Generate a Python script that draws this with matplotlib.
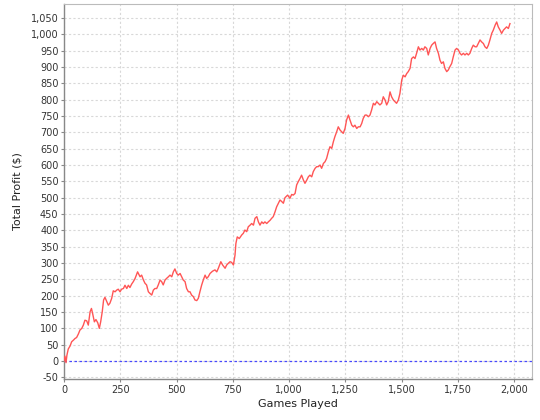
import matplotlib
matplotlib.use('Agg')
import matplotlib.pyplot as plt
from matplotlib.ticker import FuncFormatter

games = [0, 4, 9, 13, 19, 27, 34, 42, 49, 56, 64, 71, 79, 86, 93, 101, 108, 116, 122, 127,
         135, 142, 150, 157, 163, 170, 176, 182, 190, 197, 204, 212, 219, 227, 234, 241, 249, 256, 264, 271,
         279, 286, 293, 301, 308,
         316, 327, 338, 345, 353, 360, 367, 375, 382, 390, 397, 404, 412, 419, 427, 434, 441, 449, 456, 464,
         471, 479, 486, 493, 501, 508, 516, 523, 530, 538, 545, 553, 560, 567, 575, 582, 590, 597, 604, 612,
         619, 627, 634, 641,
         649, 660, 671, 679, 686, 697, 705, 716, 723, 730, 738, 745, 753, 760, 764, 770, 779, 790, 797, 804,
         812, 819, 827, 834, 842, 849, 857, 864, 871, 879, 886, 893, 901, 908, 916, 923, 930, 938, 945, 953,
         960, 968, 975,
         982, 994, 1004, 1012, 1019, 1027, 1034, 1041, 1049, 1056, 1064, 1071, 1079, 1086, 1093, 1101, 1108,
         1116, 1123, 1130, 1138, 1145, 1153, 1160, 1167, 1175, 1182, 1190, 1197, 1204, 1212, 1219, 1227, 1234,
         1241, 1249, 1256, 1264, 1271, 1279, 1286, 1293, 1301, 1308,
         1316, 1323, 1330, 1338, 1345, 1353, 1360, 1367, 1375, 1382, 1390, 1397, 1404, 1412, 1419, 1427, 1434,
         1441, 1449, 1456, 1464, 1471, 1478, 1486, 1493, 1501, 1508, 1516, 1523, 1530, 1538, 1545, 1553, 1560,
         1567, 1575, 1582, 1590, 1597, 1604, 1612, 1619,
         1627, 1634, 1641, 1649, 1656, 1664, 1671, 1678, 1686, 1693, 1701, 1708, 1715, 1723, 1730, 1738, 1745,
         1753, 1760, 1767, 1775, 1782, 1790, 1797, 1804, 1812, 1819, 1827, 1834, 1841, 1849, 1856, 1864, 1871,
         1879, 1886, 1893, 1901, 1908, 1916, 1923, 1930, 1938, 1945, 1953, 1960, 1967, 1975, 1982]

profit = [0, 15, -5, 18, 37, 46, 59, 64, 69, 72, 83, 95, 100, 110, 125, 123, 110, 151, 161, 146,
          120, 127, 117, 100, 120, 151, 187, 195, 182, 171, 177, 192, 215, 212, 217, 220, 212, 220, 222, 232,
          222, 232, 225, 236, 243,
          253, 273, 258, 263, 248, 238, 233, 212, 207, 202, 217, 222, 222, 233, 248, 243, 233, 248, 253, 258,
          263, 258, 273, 282, 268, 263, 268, 258, 248, 243, 222, 212, 212, 202, 197, 187, 185, 192, 212, 233,
          248, 263, 253, 258,
          268, 275, 279, 273, 284, 304, 294, 284, 294, 299, 304, 302, 294, 324, 360, 380, 375, 386, 391, 401,
          396, 411, 416, 421, 416, 437, 442, 426, 416, 426, 421, 426, 421, 426, 431, 437, 442, 457, 472, 483,
          493, 488, 483,
          500, 508, 498, 510, 508, 513, 539, 549, 559, 569, 554, 544, 554, 564, 569, 564, 580,
          590, 595, 595, 600, 590, 605, 610, 620, 641, 656, 651, 671, 687, 702, 717, 707, 702,
          697, 712, 738, 753, 738, 722, 717, 722, 712, 717,
          717, 727, 743, 753, 753, 748, 753, 768, 789, 784, 794, 789, 784, 789, 809, 799, 784,
          794, 824, 809, 799, 794, 789, 799, 819, 860, 875, 870, 880, 886, 896, 926, 931, 926,
          942, 962, 952, 957, 952, 962, 957, 937,
          957, 967, 972, 977, 957, 942, 921, 911, 916, 896, 886, 891, 901, 911, 931, 952, 957,
          952, 942, 937, 942, 937, 942, 937, 942, 957, 967, 962, 962, 972, 983, 977, 972, 962,
          957, 967, 983, 1003, 1013, 1028, 1038, 1023, 1013, 1003, 1013, 1018, 1023, 1018, 1033]

x_ticks = list(range(0, 2001, 250))
y_ticks = list(range(-50, 1051, 50))

fig = plt.figure(figsize=(5.4, 4.2), dpi=100)
ax = fig.add_axes([64/540, 1-379/420, (532-64)/540, (379-4)/420])
ax.set_facecolor('white')

ax.set_xlim(0, 2080)
ax.set_ylim(-55, 1093)
ax.set_xticks(x_ticks)
ax.set_yticks(y_ticks)
fmt = FuncFormatter(lambda v, p: f"{int(round(v)):,}")
ax.xaxis.set_major_formatter(fmt)
ax.yaxis.set_major_formatter(fmt)

ax.grid(True, color='#D8D8D8', linestyle=(0, (2, 2)), linewidth=0.8)
ax.set_axisbelow(True)

ax.axhline(0, color='#4848FF', linewidth=0.9, linestyle=(0, (2, 2)), zorder=2)
ax.plot(games, profit, color='#FF5555', linewidth=1.0, zorder=3)

for s in ['left', 'bottom']:
    ax.spines[s].set_color('#888888')
    ax.spines[s].set_linewidth(1.0)
for s in ['top', 'right']:
    ax.spines[s].set_color('#BBBBBB')
    ax.spines[s].set_linewidth(0.8)

ax.tick_params(axis='both', length=2, width=0.8, color='#888888', labelsize=7, pad=2, labelcolor='#333333')

ax.set_xlabel('Games Played', fontsize=8, color='#222222', labelpad=3)
ax.set_ylabel('Total Profit ($)', fontsize=8, color='#222222', labelpad=6)

fig.savefig('out.png', dpi=100, facecolor='white')
